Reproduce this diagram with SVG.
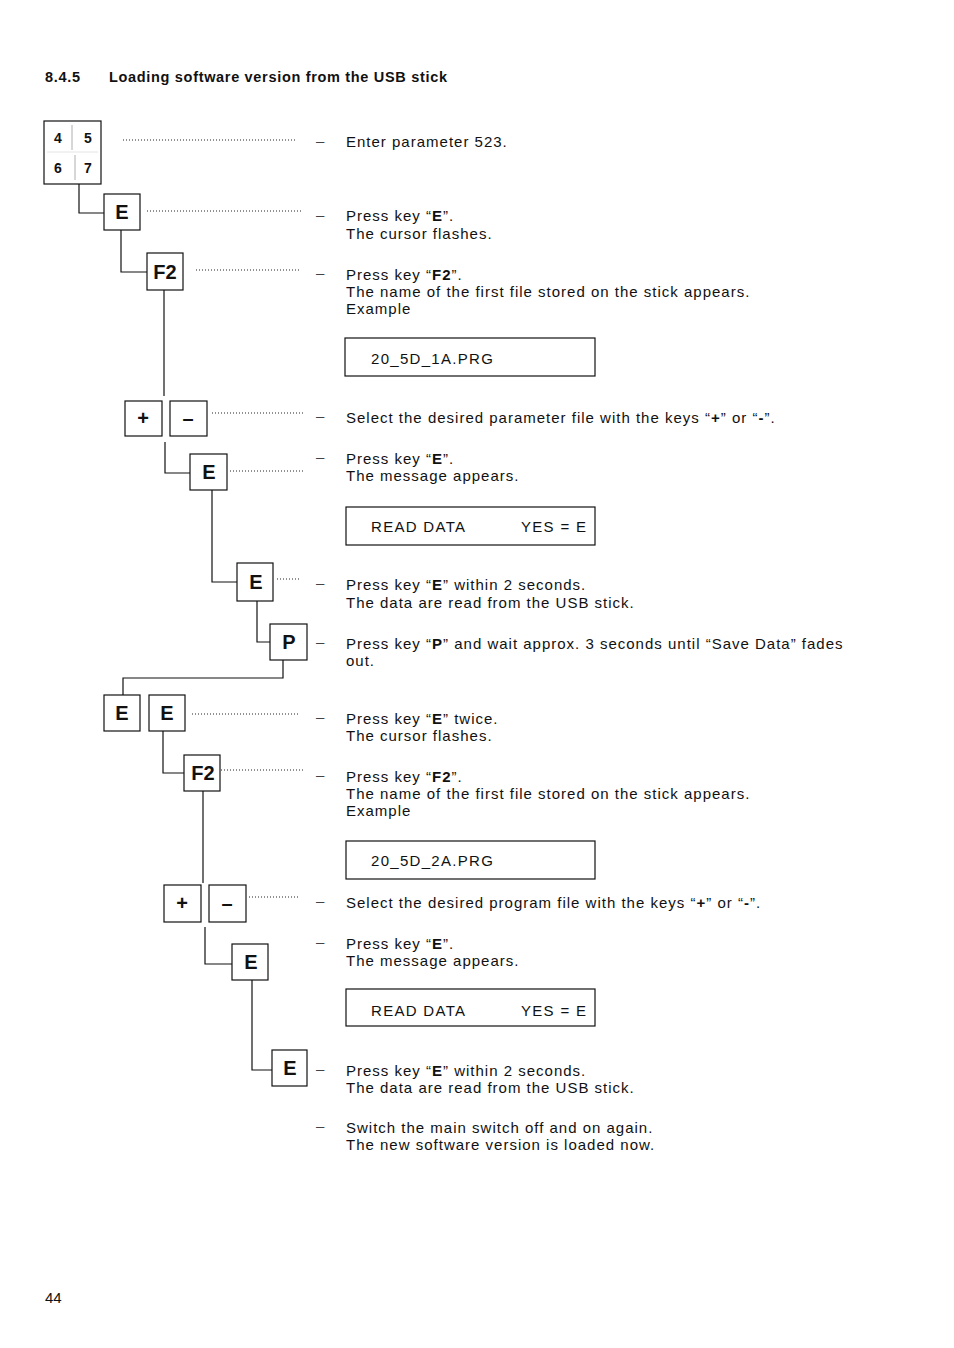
<svg xmlns="http://www.w3.org/2000/svg" width="954" height="1348" viewBox="0 0 954 1348">
<style>
text{font-family:"Liberation Sans",Arial,sans-serif;fill:#111}
.t{font-size:15px;letter-spacing:1px}
.s{font-size:15px;letter-spacing:1.3px}
.d{font-size:15px;fill:#444}
.k{font-size:20px;font-weight:bold;text-anchor:middle}
.n{font-size:14px;font-weight:bold;text-anchor:middle}
.h{font-size:14.5px;font-weight:bold;letter-spacing:0.68px}
.box{fill:#fff;stroke:#111;stroke-width:1.2}
.dot{fill:none;stroke:#222;stroke-width:1;stroke-dasharray:1 2}
.ln{fill:none;stroke:#111;stroke-width:1.2}
</style>
<text class="h" x="45" y="82">8.4.5</text>
<text class="h" x="109" y="82">Loading software version from the USB stick</text>

<g id="connectors">
<polyline class="ln" points="79,184 79,213 104,213"/>
<polyline class="ln" points="121,230 121,272 147,272"/>
<line class="ln" x1="164" y1="290" x2="164" y2="396"/>
<polyline class="ln" points="165,442 165,473 190,473"/>
<polyline class="ln" points="212,490 212,582 237,582"/>
<polyline class="ln" points="257,601 257,642 270,642"/>
<polyline class="ln" points="283,660 283,678 123,678 123,695"/>
<polyline class="ln" points="163,731 163,773 184,773"/>
<line class="ln" x1="203" y1="791" x2="203" y2="883"/>
<polyline class="ln" points="205,927 205,964 232,964"/>
<polyline class="ln" points="252,980 252,1070 272,1070"/>
<line class="dot" x1="123" y1="140" x2="297" y2="140"/>
<line class="dot" x1="147" y1="211" x2="301" y2="211"/>
<line class="dot" x1="196" y1="270" x2="301" y2="270"/>
<line class="dot" x1="212" y1="413" x2="304" y2="413"/>
<line class="dot" x1="230" y1="471" x2="304" y2="471"/>
<line class="dot" x1="277" y1="579" x2="300" y2="579"/>
<line class="dot" x1="192" y1="714" x2="300" y2="714"/>
<line class="dot" x1="221" y1="770" x2="304" y2="770"/>
<line class="dot" x1="249" y1="897" x2="298" y2="897"/>
</g>

<g id="keypad">
<rect class="box" x="44" y="121" width="57" height="63"/>
<line x1="72" y1="125" x2="72" y2="150" stroke="#999" stroke-width="0.8"/>
<line x1="75" y1="155" x2="75" y2="180" stroke="#999" stroke-width="0.8"/>
<line x1="47" y1="152" x2="98" y2="152" stroke="#ddd" stroke-width="0.8"/>
<text class="n" x="58" y="143">4</text>
<text class="n" x="88" y="143">5</text>
<text class="n" x="58" y="173">6</text>
<text class="n" x="88" y="173">7</text>
</g>
<g id="k-e1"><rect class="box" x="104" y="194" width="36" height="36"/><text class="k" x="122" y="219">E</text></g>
<g id="k-f2a"><rect class="box" x="147" y="253" width="36" height="37"/><text class="k" x="165" y="279">F2</text></g>
<g id="k-plus1"><rect class="box" x="125" y="401" width="37" height="35"/><text class="k" x="143" y="425">+</text></g>
<g id="k-minus1"><rect class="box" x="170" y="401" width="37" height="35"/><text class="k" x="188" y="425">–</text></g>
<g id="k-e2"><rect class="box" x="190" y="454" width="37" height="36"/><text class="k" x="209" y="479">E</text></g>
<g id="k-e3"><rect class="box" x="237" y="563" width="36" height="38"/><text class="k" x="256" y="589">E</text></g>
<g id="k-p"><rect class="box" x="270" y="624" width="37" height="36"/><text class="k" x="289" y="649">P</text></g>
<g id="k-e4"><rect class="box" x="104" y="695" width="36" height="36"/><text class="k" x="122" y="720">E</text></g>
<g id="k-e5"><rect class="box" x="149" y="695" width="36" height="36"/><text class="k" x="167" y="720">E</text></g>
<g id="k-f2b"><rect class="box" x="184" y="755" width="36" height="36"/><text class="k" x="203" y="780">F2</text></g>
<g id="k-plus2"><rect class="box" x="164" y="885" width="37" height="37"/><text class="k" x="182" y="910">+</text></g>
<g id="k-minus2"><rect class="box" x="209" y="885" width="37" height="37"/><text class="k" x="227" y="910">–</text></g>
<g id="k-e6"><rect class="box" x="232" y="944" width="36" height="36"/><text class="k" x="251" y="969">E</text></g>
<g id="k-e7"><rect class="box" x="272" y="1050" width="35" height="36"/><text class="k" x="290" y="1075">E</text></g>

<g id="disp1"><rect class="box" x="345" y="338" width="250" height="38"/><text class="s" x="371" y="364">20_5D_1A.PRG</text></g>
<g id="disp2"><rect class="box" x="346" y="507" width="249" height="38"/><text class="s" x="371" y="532">READ DATA</text><text class="s" x="521" y="532">YES = E</text></g>
<g id="disp3"><rect class="box" x="346" y="841" width="249" height="38"/><text class="s" x="371" y="866">20_5D_2A.PRG</text></g>
<g id="disp4"><rect class="box" x="346" y="989" width="249" height="37"/><text class="s" x="371" y="1016">READ DATA</text><text class="s" x="521" y="1016">YES = E</text></g>

<g id="texts">
<text class="d" x="316" y="146">–</text><text class="t" x="346" y="147">Enter parameter 523.</text>
<text class="d" x="316" y="220">–</text><text class="t" x="346" y="221">Press key “<tspan font-weight="bold">E</tspan>”.</text><text class="t" x="346" y="239">The cursor flashes.</text>
<text class="d" x="316" y="278">–</text><text class="t" x="346" y="280">Press key “<tspan font-weight="bold">F2</tspan>”.</text><text class="t" x="346" y="297">The name of the first file stored on the stick appears.</text><text class="t" x="346" y="314">Example</text>
<text class="d" x="316" y="421">–</text><text class="t" x="346" y="423">Select the desired parameter file with the keys “<tspan font-weight="bold">+</tspan>” or “<tspan font-weight="bold">-</tspan>”.</text>
<text class="d" x="316" y="462">–</text><text class="t" x="346" y="464">Press key “<tspan font-weight="bold">E</tspan>”.</text><text class="t" x="346" y="481">The message appears.</text>
<text class="d" x="316" y="588">–</text><text class="t" x="346" y="590">Press key “<tspan font-weight="bold">E</tspan>” within 2 seconds.</text><text class="t" x="346" y="608">The data are read from the USB stick.</text>
<text class="d" x="316" y="647">–</text><text class="t" x="346" y="649">Press key “<tspan font-weight="bold">P</tspan>” and wait approx. 3 seconds until “Save Data” fades</text><text class="t" x="346" y="666">out.</text>
<text class="d" x="316" y="722">–</text><text class="t" x="346" y="724">Press key “<tspan font-weight="bold">E</tspan>” twice.</text><text class="t" x="346" y="741">The cursor flashes.</text>
<text class="d" x="316" y="780">–</text><text class="t" x="346" y="782">Press key “<tspan font-weight="bold">F2</tspan>”.</text><text class="t" x="346" y="799">The name of the first file stored on the stick appears.</text><text class="t" x="346" y="816">Example</text>
<text class="d" x="316" y="906">–</text><text class="t" x="346" y="908">Select the desired program file with the keys “<tspan font-weight="bold">+</tspan>” or “<tspan font-weight="bold">-</tspan>”.</text>
<text class="d" x="316" y="947">–</text><text class="t" x="346" y="949">Press key “<tspan font-weight="bold">E</tspan>”.</text><text class="t" x="346" y="966">The message appears.</text>
<text class="d" x="316" y="1074">–</text><text class="t" x="346" y="1076">Press key “<tspan font-weight="bold">E</tspan>” within 2 seconds.</text><text class="t" x="346" y="1093">The data are read from the USB stick.</text>
<text class="d" x="316" y="1131">–</text><text class="t" x="346" y="1133">Switch the main switch off and on again.</text><text class="t" x="346" y="1150">The new software version is loaded now.</text>
</g>
<text class="t" x="45" y="1303" style="letter-spacing:0">44</text>
</svg>
